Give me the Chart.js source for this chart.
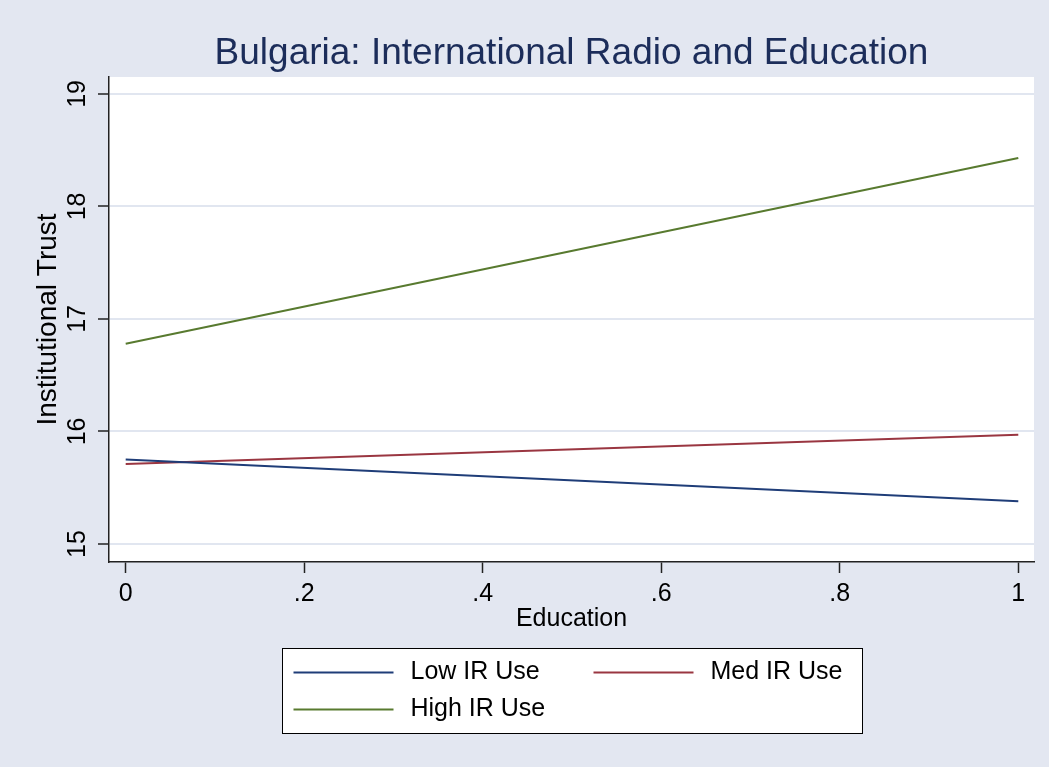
<!DOCTYPE html>
<html>
<head>
<meta charset="utf-8">
<script src="https://cdn.jsdelivr.net/npm/chart.js@4/dist/chart.umd.min.js"></script>
<style>
  html, body { margin: 0; padding: 0; background: #e3e7f1; }
  canvas { display: block; }
</style>
</head>
<body>
<canvas id="chart" width="1049" height="767"></canvas>
<script>
// Text
const titleText = 'Bulgaria: International Radio and Education';
const xAxisTitle = 'Education';
const yAxisTitle = 'Institutional Trust';

// Predicted trust at the ends of the education range
const education = [0, 1];
const lowIR = [15.75, 15.38];
const medIR = [15.71, 15.97];
const highIR = [16.78, 18.43];
const seriesNames = ['Low IR Use', 'Med IR Use', 'High IR Use'];

// Axis ticks
const xTickValues = [0, 0.2, 0.4, 0.6, 0.8, 1];
const xTickLabels = ['0', '.2', '.4', '.6', '.8', '1'];
const yTickValues = [15, 16, 17, 18, 19];
const yTickLabels = ['15', '16', '17', '18', '19'];

const FONT = '"Liberation Sans", Arial, sans-serif';
const BG = '#e3e7f1';
const colors = ['#1f3d78', '#9a3641', '#587a2f'];

const toPoints = ys => education.map((x, i) => ({ x, y: ys[i] }));

// Page background, white plot region, title and boxed legend
const frame = {
  id: 'frame',
  beforeDraw(chart) {
    const { ctx, chartArea: a } = chart;
    ctx.save();
    ctx.fillStyle = BG;
    ctx.fillRect(0, 0, chart.width, chart.height);
    ctx.fillStyle = '#ffffff';
    ctx.fillRect(a.left, a.top, a.right - a.left, a.bottom - a.top);
    ctx.restore();
  },
  afterDraw(chart) {
    const { ctx, chartArea: a } = chart;
    const cx = (a.left + a.right) / 2;
    ctx.save();
    // title
    ctx.fillStyle = '#1c2d5a';
    ctx.font = '37px ' + FONT;
    ctx.textAlign = 'center';
    ctx.textBaseline = 'alphabetic';
    ctx.fillText(titleText, cx, 64);

    // legend box
    const bw = 580, bh = 85;
    const bx = Math.round(cx - bw / 2) + 0.5, by = 648.5;
    ctx.fillStyle = '#ffffff';
    ctx.fillRect(bx, by, bw, bh);
    ctx.strokeStyle = '#000000';
    ctx.lineWidth = 1;
    ctx.strokeRect(bx, by, bw, bh);

    ctx.font = '25px ' + FONT;
    ctx.textAlign = 'left';
    ctx.textBaseline = 'middle';
    const cols = [bx + 11, bx + 311];
    const rows = [by + 24, by + 61];
    chart.data.datasets.forEach((ds, i) => {
      const x0 = cols[i % 2];
      const y0 = rows[Math.floor(i / 2)];
      ctx.strokeStyle = ds.borderColor;
      ctx.lineWidth = 2;
      ctx.beginPath();
      ctx.moveTo(x0, y0);
      ctx.lineTo(x0 + 100, y0);
      ctx.stroke();
      ctx.fillStyle = '#000000';
      ctx.fillText(ds.label, x0 + 117, y0);
    });
    ctx.restore();
  }
};

new Chart(document.getElementById('chart'), {
  type: 'line',
  data: {
    datasets: [lowIR, medIR, highIR].map((ys, i) => ({
      label: seriesNames[i],
      data: toPoints(ys),
      borderColor: colors[i],
      borderWidth: 2,
      pointRadius: 0,
      tension: 0,
      fill: false
    }))
  },
  options: {
    responsive: false,
    devicePixelRatio: 1,
    animation: false,
    layout: { padding: { left: 0, top: 77, right: 15, bottom: 0 } },
    plugins: {
      legend: { display: false },
      title: { display: false },
      tooltip: { enabled: false }
    },
    scales: {
      x: {
        type: 'linear',
        min: -0.0187,
        max: 1.0176,
        afterBuildTicks: s => { s.ticks = xTickValues.map(v => ({ value: v })); },
        afterFit: s => { s.height = 205; },
        ticks: {
          autoSkip: false,
          maxRotation: 0,
          padding: 6,
          color: '#000000',
          font: { family: FONT, size: 25 },
          callback: (v) => xTickLabels[xTickValues.indexOf(v)]
        },
        grid: {
          drawOnChartArea: false,
          drawTicks: true,
          tickLength: 11,
          tickColor: '#222222',
          tickWidth: 1.5
        },
        border: { display: true, color: '#222222', width: 1.5 },
        title: {
          display: true,
          text: xAxisTitle,
          color: '#000000',
          font: { family: FONT, size: 25 },
          padding: { top: 0, bottom: 133 }
        }
      },
      y: {
        type: 'linear',
        min: 14.84,
        max: 19.15,
        afterBuildTicks: s => { s.ticks = yTickValues.map(v => ({ value: v })); },
        afterFit: s => { s.width = 109; },
        ticks: {
          autoSkip: false,
          minRotation: 90,
          maxRotation: 90,
          crossAlign: 'center',
          padding: 6,
          color: '#000000',
          font: { family: FONT, size: 25 },
          callback: (v) => yTickLabels[yTickValues.indexOf(v)]
        },
        grid: {
          color: '#e1e6f0',
          lineWidth: 2,
          drawTicks: true,
          tickLength: 11,
          tickColor: '#222222',
          tickWidth: 1.5
        },
        border: { display: true, color: '#222222', width: 1.5 },
        title: {
          display: true,
          text: yAxisTitle,
          color: '#000000',
          font: { family: FONT, size: 28 },
          padding: { top: 31, bottom: 0 }
        }
      }
    }
  },
  plugins: [frame]
});
</script>
</body>
</html>
